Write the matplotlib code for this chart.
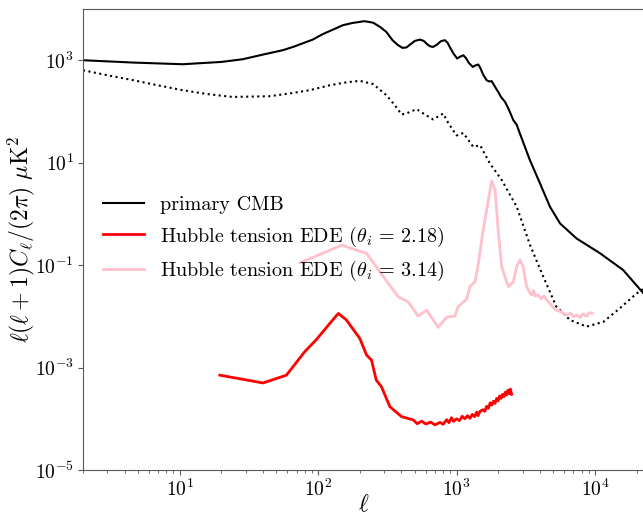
import matplotlib
matplotlib.use("Agg")
import matplotlib.pyplot as plt
import numpy as np
from matplotlib.ticker import FixedLocator, NullLocator, LogLocator

plt.rcParams['font.family'] = 'serif'
plt.rcParams['font.serif'] = ['cmr10']
plt.rcParams['mathtext.fontset'] = 'cm'
plt.rcParams['axes.formatter.use_mathtext'] = True

# primary CMB (solid black)
ell_tt = [2, 4.6, 10.5, 20, 28.5, 40, 55.6, 66, 91.5, 108, 128, 151, 178, 216, 250,
          280, 310, 345, 375, 407, 435, 470, 500, 543, 580, 620, 650, 677, 720, 770,
          824, 860, 900, 950, 1010, 1060, 1120, 1170, 1230, 1310, 1370, 1435, 1480,
          1560, 1650, 1720, 1795, 1850, 1930, 2000, 2100, 2240, 2370, 2570, 2720, 2870,
          3390, 4010, 4730, 5600, 7380, 10900, 16000, 23000]
dl_tt = [1000, 900, 835, 926, 1045, 1290, 1570, 1820, 2530, 3230, 3960, 4830, 5350,
         5780, 5400, 4470, 3600, 2450, 2000, 1740, 1780, 2100, 2380, 2530, 2380, 2000,
         1850, 1820, 2000, 2350, 2460, 2200, 1750, 1350, 1080, 1170, 1250, 1100, 880,
         740, 790, 825, 720, 520, 407, 385, 390, 340, 280, 241, 190, 154, 114, 68, 55,
         37, 11.2, 3.93, 1.38, 0.65, 0.33, 0.17, 0.08, 0.026]

# dotted black curve (no legend entry)
ell_dot = [2, 3.0, 4.6, 6.9, 10.5, 15.9, 24, 44.5, 62, 87, 122, 160, 200, 250, 312,
           360, 401, 450, 514, 600, 677, 740, 801, 870, 1000, 1120, 1320, 1480, 1740,
           2120, 2720, 3390, 4240, 5260, 6600, 8700, 11500, 15100, 20000, 23000]
dl_dot = [638, 509, 408, 325, 260, 218, 192, 198, 224, 260, 326, 370, 396, 341, 207,
          130, 87, 95, 111, 85, 70, 80, 91, 60, 34, 38, 20.4, 21.9, 9.7, 4.6, 1.38,
          0.25, 0.059, 0.0155, 0.0085, 0.0063, 0.0078, 0.0143, 0.028, 0.036]

# Hubble tension EDE, theta_i = 2.18
ell_ede1 = [19.5, 40, 59, 80, 97, 120, 140, 160, 200, 224, 243, 263, 287, 330, 401,
            487, 520, 560, 600, 650, 700, 760, 800, 850, 880, 920, 950, 1000, 1050,
            1100, 1150, 1200, 1250, 1300, 1350, 1400, 1430, 1480, 1550, 1600, 1650,
            1700, 1750, 1800, 1850, 1900, 1950, 2000, 2050, 2100, 2150, 2200, 2250,
            2300, 2350, 2400, 2450, 2500]
dl_ede1 = [7.1e-4, 5.0e-4, 7.1e-4, 2.04e-3, 3.5e-3, 7.0e-3, 1.14e-2, 8.5e-3, 3.7e-3,
           1.75e-3, 1.4e-3, 5.7e-4, 4.2e-4, 1.72e-4, 1.1e-4, 9.5e-5, 8.0e-5, 9.0e-5,
           7.9e-5, 8.6e-5, 7.6e-5, 8.5e-5, 7.8e-5, 9.6e-5, 8.4e-5, 1.05e-4, 8.9e-5,
           1.0e-4, 9.2e-5, 1.12e-4, 1.0e-4, 1.15e-4, 1.02e-4, 1.22e-4, 1.1e-4, 1.35e-4,
           1.15e-4, 1.4e-4, 1.5e-4, 1.4e-4, 1.75e-4, 1.6e-4, 2.05e-4, 1.85e-4, 2.2e-4,
           2.0e-4, 2.5e-4, 2.25e-4, 2.8e-4, 2.5e-4, 3.0e-4, 2.7e-4, 3.3e-4, 2.9e-4,
           3.6e-4, 3.1e-4, 3.8e-4, 3.0e-4]

# Hubble tension EDE, theta_i = 3.14
ell_ede2 = [74, 148, 224, 279, 379, 447, 528, 608, 738, 848, 973, 1028, 1183, 1250,
            1358, 1400, 1477, 1560, 1650, 1730, 1795, 1850, 1900, 2000, 2120, 2240,
            2370, 2570, 2720, 2870, 3030, 3210, 3350, 3490, 3600, 3700, 3900, 4100,
            4300, 4470, 4700, 5000, 5260, 5600, 6250, 6700, 7000, 7380, 7800, 8200,
            8700, 9100, 9560]
dl_ede2 = [0.111, 0.245, 0.169, 0.074, 0.024, 0.0192, 0.0101, 0.0132, 0.0061, 0.0096,
           0.0101, 0.0155, 0.0215, 0.038, 0.047, 0.069, 0.18, 0.5, 1.18, 2.5, 4.4, 3.5,
           2.9, 0.48, 0.093, 0.059, 0.038, 0.047, 0.093, 0.126, 0.093, 0.038, 0.030,
           0.026, 0.032, 0.025, 0.026, 0.022, 0.025, 0.021, 0.018, 0.015, 0.0132,
           0.0125, 0.0106, 0.0115, 0.0098, 0.0106, 0.0095, 0.0112, 0.0100, 0.0118, 0.0115]

fig = plt.figure(figsize=(6.43, 5.18), dpi=100)
ax = fig.add_axes([83/643, 48/518, 562/643, 461/518])

ax.plot(ell_tt, dl_tt, color='black', lw=1.5, label='primary CMB')
ax.plot(ell_dot, dl_dot, color='black', lw=1.5, ls=':')
ax.plot(ell_ede1, dl_ede1, color='red', lw=2,
        label=r'Hubble tension EDE ($\theta_i \,=\, 2.18$)')
ax.plot(ell_ede2, dl_ede2, color='pink', lw=2,
        label=r'Hubble tension EDE ($\theta_i \,=\, 3.14$)')

ax.set_xscale('log')
ax.set_yscale('log')
ax.set_xlim(2, 2.3e4)
ax.set_ylim(1e-5, 1e4)
ax.yaxis.set_major_locator(FixedLocator([1e-5, 1e-3, 1e-1, 1e1, 1e3]))
ax.yaxis.set_minor_locator(NullLocator())
ax.xaxis.set_minor_locator(LogLocator(base=10, subs=np.arange(2, 10), numticks=20))

for s in ax.spines.values():
    s.set_color('0.35')
ax.tick_params(labelsize=14, colors='0.35', labelcolor='black', pad=3)
ax.tick_params(which='minor', colors='0.35')

ax.set_xlabel(r'$\ell$', fontsize=17)
ax.set_ylabel(r'$\ell(\ell+1)C_\ell/(2\pi)\ \mu{\rm K}^2$', fontsize=17)
ax.xaxis.set_label_coords(0.5, -0.052)
ax.yaxis.set_label_coords(-0.082, 0.5)

ax.legend(loc='center left', bbox_to_anchor=(0.022, 0.5), frameon=False, fontsize=14.5,
          borderaxespad=0)

fig.savefig('out.png', dpi=100)
